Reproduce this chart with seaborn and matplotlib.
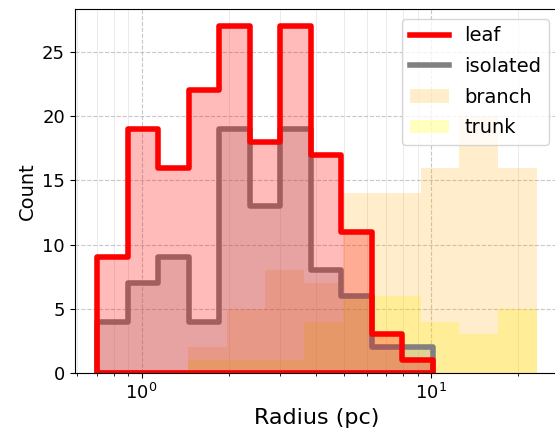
import numpy as np
import pandas as pd
import matplotlib
matplotlib.use("Agg")
import matplotlib.pyplot as plt
import seaborn as sns
from matplotlib.lines import Line2D
from matplotlib.patches import Patch
from matplotlib.colors import to_rgba

# ---- data (counts per bin) ----
leaf_counts = [9, 19, 16, 22, 27, 18, 27, 17, 11, 3, 1]
isolated_counts = [4, 7, 9, 4, 19, 13, 19, 8, 6, 2, 2]
branch_counts = [2, 5, 8, 7, 14, 14, 16, 20, 16]
trunk_counts = [1, 1, 1, 4, 6, 6, 4, 3, 5]

# bin ranges in log10(radius / pc)
small_range = (-0.154, 1.0066)   # leaf / isolated
large_range = (0.160, 1.366)     # branch / trunk

small_edges = np.linspace(small_range[0], small_range[1], len(leaf_counts) + 1)
large_edges = np.linspace(large_range[0], large_range[1], len(branch_counts) + 1)
small_mid = 10 ** ((small_edges[:-1] + small_edges[1:]) / 2)
large_mid = 10 ** ((large_edges[:-1] + large_edges[1:]) / 2)
small_bins = [float(v) for v in small_edges]
large_bins = [float(v) for v in large_edges]

trunk_df = pd.DataFrame({"radius": large_mid, "n": trunk_counts})
branch_df = pd.DataFrame({"radius": large_mid, "n": branch_counts})
iso_df = pd.DataFrame({"radius": small_mid, "n": isolated_counts})
leaf_df = pd.DataFrame({"radius": small_mid, "n": leaf_counts})

fig = plt.figure(figsize=(5.55, 4.36), dpi=100)
ax = fig.add_axes([0.1346, 0.1445, 0.8726, 0.835])

sns.histplot(data=trunk_df, x="radius", weights="n", bins=large_bins, log_scale=True,
             element="step", fill=True, color="yellow", alpha=0.25, linewidth=0, ax=ax)
sns.histplot(data=branch_df, x="radius", weights="n", bins=large_bins, log_scale=True,
             element="step", fill=True, color="orange", alpha=0.2, linewidth=0, ax=ax)
sns.histplot(data=iso_df, x="radius", weights="n", bins=small_bins, log_scale=True,
             element="step", fill=True, color="gray", alpha=0.25, linewidth=4, ax=ax)
sns.histplot(data=leaf_df, x="radius", weights="n", bins=small_bins, log_scale=True,
             element="step", fill=True, color="red", alpha=0.27, linewidth=4, ax=ax)

ax.set_xlim(10 ** -0.231, 10 ** 1.442)
ax.set_ylim(0, 28.35)
ax.set_yticks([0, 5, 10, 15, 20, 25])

ax.grid(True, which="major", linestyle="--", color="#b0b0b0", linewidth=0.8, alpha=0.7)
ax.grid(True, which="minor", axis="x", linestyle="-", color="#d8d8d8", linewidth=0.6, alpha=0.6)
ax.set_axisbelow(True)

ax.set_xlabel("Radius (pc)", fontsize=16)
ax.set_ylabel("Count", fontsize=14)
ax.tick_params(axis="both", which="major", labelsize=13)

handles = [
    Line2D([0], [0], color="red", lw=4),
    Line2D([0], [0], color="gray", lw=4),
    Patch(facecolor=to_rgba("orange", 0.2), edgecolor="none"),
    Patch(facecolor=to_rgba("yellow", 0.25), edgecolor="none"),
]
ax.legend(handles, ["leaf", "isolated", "branch", "trunk"], loc="upper right",
          fontsize=14, labelspacing=0.6, handlelength=2.0)

fig.savefig("out.png", dpi=100)
